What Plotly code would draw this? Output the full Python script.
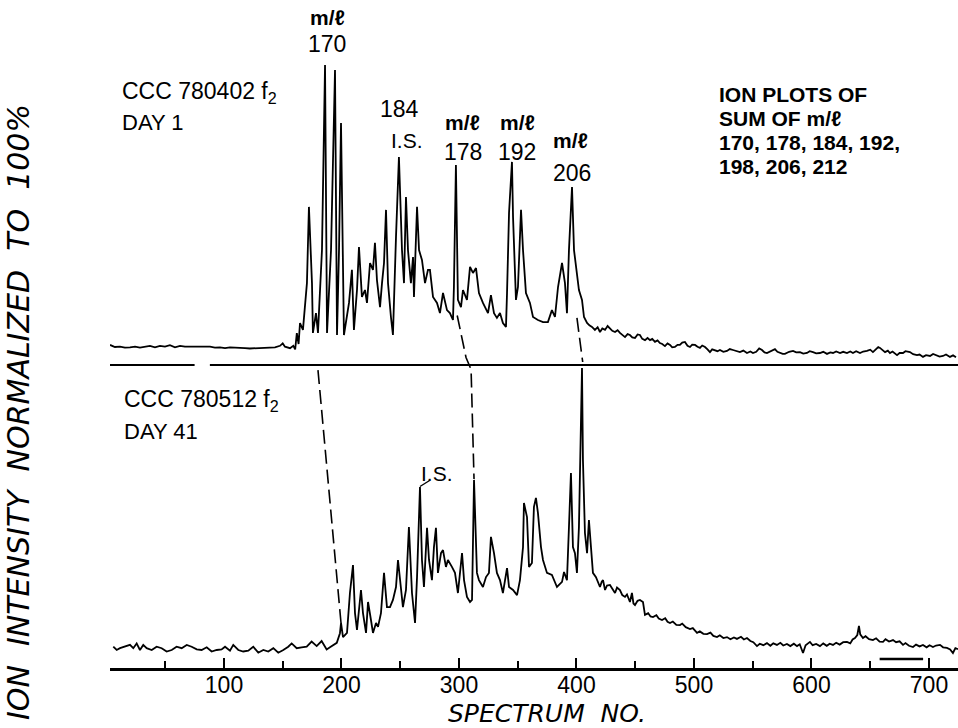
import plotly.graph_objects as go

# ---------------- data: summed ion plots (intensity in % of largest peak) ----------------
# Upper run: CCC 780402 f2, day 1
upper_spectrum = [
    3, 7.2, 11.5, 15.7, 20, 24.3, 28.5, 32.8, 37, 41.3,
    45.5, 49.8, 54, 58.3, 62.6, 66.8, 71.1, 75.3, 79.6, 83.8,
    88.1, 92.3, 96.6, 100.9, 105.1, 109.4, 113.6, 117.9, 122, 127,
    132, 137, 143.4, 147.7, 150, 151.9, 156.2, 159, 160.6, 162,
    163.5, 164.7, 167.2, 170.6, 172.3, 174.9, 175.7, 178.3, 180, 183.4,
    186, 187.7, 191.1, 194.5, 196.2, 197.9, 199.6, 202.1, 204.7, 206.4,
    208.9, 210.6, 213.2, 214.9, 217.4, 220, 221.7, 224.3, 226.8, 228.5,
    230.2, 232.8, 234.5, 236.2, 237.9, 239.6, 242.1, 243.8, 246.4, 248.9,
    251.5, 253.2, 254.9, 256.6, 259.1, 260.9, 261.7, 264.3, 266, 268.5,
    271.1, 273.6, 275.3, 277.9, 281.3, 283.8, 286.4, 289.8, 292.3, 294.9,
    295.7, 297.4, 299.1, 301.7, 303.4, 306.8, 309.4, 311.9, 314.5, 317,
    320.4, 324.7, 327.2, 329.8, 332.3, 334.9, 337.4, 340, 340.9, 342.6,
    345.1, 346, 348.5, 350.2, 352.8, 354.5, 357, 360.4, 363, 367.2,
    371.5, 375.7, 379.1, 381.7, 384.3, 387.7, 390.2, 391.9, 393.6, 396.2,
    397.9, 400.4, 402.1, 404.7, 406.4, 409, 411, 413.2, 415.7, 418,
    420, 422, 424.3, 426.5, 428.5, 430.5, 432.8, 435, 437, 439,
    441.3, 443.5, 445.5, 447.5, 449.8, 452, 454, 456, 458.3, 460.5,
    462.6, 464.5, 466.8, 469, 471, 473, 475.3, 477.5, 479.6, 481.5,
    483.8, 486, 488, 490, 492.3, 494.5, 496.6, 498.5, 500.9, 503,
    505.1, 507, 509.4, 511.5, 513.6, 515.5, 517.9, 520, 522.1, 525,
    528.1, 530.5, 533.2, 536, 539.1, 542, 545.1, 548, 550.2, 553,
    555.5, 557.9, 560, 562.1, 565, 568.9, 571, 573.2, 575.5, 577.4,
    581, 584.3, 587, 590.2, 593, 596.2, 598.5, 601.3, 604, 607.2,
    610, 613.2, 616, 618.3, 621, 624.3, 627, 630.2, 633, 635.3,
    638, 641.3, 644, 647.2, 650, 652.3, 655, 656.8, 658.3, 660.5,
    662.6, 665, 666.8, 669, 672.8, 675, 677.9, 680, 683.8, 686.5,
    689.8, 692, 694.9, 697.5, 700.9, 703.5, 706.8, 709, 711.9, 714.5,
    717.9, 720.5, 723,
]
upper_intensity = [
    6.7, 6.0, 6.1, 5.8, 5.9, 6.1, 5.8, 6.1, 6.4, 5.9,
    6.4, 6.1, 6.6, 5.9, 6.4, 6.1, 6.1, 5.9, 6.1, 5.9,
    6.1, 5.8, 5.9, 5.6, 5.9, 5.8, 5.6, 5.6, 5.5, 5.6,
    5.5, 5.6, 5.9, 6.4, 7.2, 6.1, 5.6, 6.4, 5.2, 10.6,
    7.0, 14.0, 11.7, 27.3, 52.7, 27.3, 10.7, 17.3, 10.7, 38.3,
    100, 10.7, 38.3, 98.3, 10.0, 38.3, 80.7, 10.0, 16.0, 20.7,
    31.7, 11.7, 25.0, 39.3, 22.7, 25.0, 20.7, 34.0, 31.7, 40.7,
    28.3, 19.3, 27.3, 34.0, 51.7, 27.3, 16.0, 10.0, 42.7, 69.3,
    38.3, 27.3, 56.0, 38.3, 27.3, 36.0, 22.7, 52.7, 38.3, 35.0,
    27.3, 31.7, 31.7, 22.7, 20.7, 17.3, 24.0, 18.3, 17.3, 15.0,
    26.0, 66.7, 21.7, 19.3, 25.0, 21.7, 32.7, 30.7, 32.3, 24.0,
    20.7, 17.3, 23.3, 17.3, 15.7, 17.3, 14.0, 12.7, 24.0, 50.7,
    67.7, 49.3, 21.7, 26.0, 51.7, 38.3, 24.0, 20.7, 16.0, 15.0,
    14.3, 14.3, 18.3, 16.0, 26.0, 34.0, 27.3, 17.3, 38.3, 59.3,
    38.3, 30.7, 25.0, 21.7, 16.0, 14.0, 13.2, 12.7, 11.7, 12.6,
    11.0, 12.2, 11.7, 13.0, 12.3, 11.4, 11.0, 11.6, 10.7, 10.0,
    9.3, 10.3, 10.0, 9.2, 9.0, 10.2, 10.0, 8.7, 8.3, 9.0,
    8.3, 8.7, 7.7, 8.2, 7.3, 7.0, 6.3, 7.2, 6.7, 5.9,
    6.0, 6.7, 6.7, 7.5, 7.7, 6.4, 6.0, 6.8, 6.7, 6.1,
    5.7, 6.5, 6.0, 5.2, 4.3, 5.2, 5.0, 4.6, 5.0, 4.4,
    4.7, 5.3, 5.0, 4.6, 4.3, 4.8, 4.0, 4.5, 4.0, 4.4,
    5.5, 5.0, 4.2, 4.0, 4.6, 5.3, 4.4, 4.0, 3.7, 3.7,
    4.4, 4.7, 4.2, 4.3, 3.8, 4.0, 4.6, 4.3, 3.9, 4.0,
    4.4, 3.7, 4.2, 4.0, 4.5, 4.0, 4.4, 4.0, 4.5, 4.0,
    4.6, 4.0, 4.5, 4.7, 5.1, 4.3, 5.2, 6.0, 5.7, 5.0,
    4.3, 4.8, 4.0, 4.5, 3.3, 4.0, 4.0, 4.6, 4.3, 3.6,
    3.3, 3.5, 2.7, 3.3, 3.0, 3.7, 3.3, 2.8, 3.0, 3.5,
    2.7, 3.2, 2.6,
]

# Lower run: CCC 780512 f2, day 41
lower_spectrum = [
    5.8, 8.7, 11.5, 15.7, 20, 22.8, 25.7, 28.5, 31.3, 34.2,
    38.5, 42.7, 47, 51.2, 55.5, 59.7, 64, 68.3, 72.5, 76.8,
    81, 85.3, 89.5, 93.8, 98, 100.9, 105.1, 107.9, 112.2, 116.4,
    120.7, 124.9, 129.2, 133.5, 137.7, 142, 146.2, 150.5, 154.7, 157.6,
    161.9, 166.1, 170.4, 174.6, 178.9, 183.1, 187.4, 190.2, 193, 196,
    198.7, 199.6, 201.3, 204.7, 207.2, 209.8, 211.5, 213.2, 216.6, 218.3,
    220.9, 222.6, 225.1, 226.8, 229.4, 231.1, 233.6, 236.2, 238.7, 241.3,
    243.8, 246.4, 248.1, 250.6, 252.3, 254.9, 257.4, 260, 262.6, 264.3,
    266.8, 268.5, 270.2, 272.8, 274.5, 277, 278.7, 280.4, 282.1, 284.7,
    286.4, 288.9, 290.6, 294, 296.6, 299.1, 300.9, 302.6, 304.3, 306.8,
    309.4, 311.1, 312.8, 315.3, 317, 320.4, 323, 325.5, 327.2, 329.8,
    332.3, 334.9, 337.4, 340.9, 342.6, 346, 349.4, 351.9, 354.5, 355.3,
    357.9, 359.6, 362.1, 363.8, 365.5, 367.2, 369.8, 371.5, 374.9, 379.1,
    383.4, 387.7, 389.4, 391.9, 393.6, 395.3, 397, 398.7, 400.4, 402.1,
    404.7, 405.5, 407.2, 409, 410.6, 412.3, 414, 416.6, 418.5, 420,
    421.5, 422.6, 424.3, 426, 428.5, 430.5, 432.8, 434.5, 437, 439,
    441.3, 443, 445.5, 447.2, 448.5, 449.8, 452, 454, 456.6, 458.3,
    461, 463, 465.1, 468, 470, 472.8, 475.5, 477.5, 479.6, 482,
    485, 488.1, 490, 493, 496.6, 499, 502.6, 505, 508, 511.1,
    514, 516.5, 519.6, 522, 525, 528.1, 531, 534, 536.6, 540,
    542.5, 545.1, 548, 550.5, 553.6, 556, 559, 562.1, 565, 567.5,
    570.6, 573.5, 576, 579.1, 582, 585, 587.7, 590, 592.8, 595,
    598.7, 601, 604, 607.2, 610, 613, 615.5, 618.3, 621, 624,
    627, 630.2, 633, 635, 637, 639, 640.4, 641.5, 643.8, 646,
    649, 652.3, 655, 658, 660.9, 663, 666, 669.4, 672, 675,
    677.9, 680, 683, 686.4, 689, 692, 694.9, 698, 700.5, 703.4,
    706, 709.4, 712, 715.3, 718, 720.4, 722.5, 724.7,
]
lower_intensity = [
    7.1, 6.0, 6.6, 7.1, 7.7, 6.6, 8.2, 6.0, 7.7, 6.6,
    6.0, 7.1, 6.6, 5.5, 6.0, 7.1, 6.6, 7.7, 7.1, 6.2,
    6.0, 6.9, 5.5, 6.0, 6.2, 7.1, 5.8, 7.7, 6.0, 5.5,
    5.8, 7.1, 5.1, 6.0, 5.5, 6.6, 5.1, 6.0, 7.1, 8.2,
    6.6, 6.9, 7.1, 8.8, 7.3, 9.0, 6.2, 6.9, 7.7, 8.4,
    11.6, 15.0, 10.3, 11.7, 25.0, 34.3, 18.3, 12.7, 26.0, 18.3,
    11.7, 22.0, 16.0, 11.7, 15.0, 13.7, 18.3, 31.7, 20.3, 20.3,
    22.7, 27.0, 36.0, 25.0, 20.3, 26.0, 47.0, 25.0, 15.0, 30.3,
    60.3, 36.0, 27.0, 46.7, 36.0, 29.3, 40.3, 46.7, 31.7, 38.3,
    39.3, 33.7, 36.0, 33.7, 31.7, 25.0, 31.7, 38.3, 29.3, 23.7,
    22.0, 22.7, 62.7, 31.7, 29.3, 27.0, 30.3, 31.7, 43.7, 38.3,
    31.7, 29.3, 25.0, 33.3, 27.0, 26.0, 24.3, 29.3, 40.3, 55.0,
    50.3, 33.7, 35.0, 53.7, 56.7, 51.7, 40.3, 36.0, 31.7, 31.0,
    27.0, 28.7, 32.0, 29.3, 47.0, 65.0, 40.3, 38.3, 31.7, 47.0,
    100, 69.3, 45.0, 38.3, 49.3, 40.3, 31.7, 30.3, 28.5, 27.0,
    28.8, 29.3, 26.0, 27.5, 27.7, 26.2, 25.0, 26.8, 26.0, 24.3,
    23.7, 24.5, 22.0, 25.0, 21.5, 21.0, 22.4, 22.7, 22.0, 17.7,
    18.3, 17.2, 17.0, 17.6, 16.5, 16.0, 16.6, 15.4, 15.0, 15.5,
    14.4, 14.3, 14.8, 13.6, 13.0, 13.3, 11.7, 12.2, 11.4, 11.3,
    11.8, 10.7, 10.3, 10.9, 10.0, 10.3, 9.6, 10.2, 9.7, 10.4,
    9.5, 10.0, 9.0, 8.6, 7.3, 8.1, 7.6, 8.3, 7.4, 8.2,
    7.7, 8.4, 7.5, 8.0, 7.3, 8.1, 7.3, 7.9, 5.0, 7.6,
    8.7, 7.6, 8.0, 7.3, 8.2, 7.4, 8.1, 7.7, 8.4, 7.8,
    8.6, 8.7, 8.2, 9.5, 10.0, 11.0, 14.0, 11.2, 10.0, 10.6,
    9.6, 9.3, 9.9, 8.8, 8.7, 9.6, 8.8, 9.3, 8.6, 8.9,
    7.7, 8.3, 7.4, 7.0, 7.8, 7.2, 7.7, 6.9, 7.6, 7.0,
    7.5, 7.7, 6.9, 6.7, 6.2, 5.0, 6.6, 6.3,
]

# The upper plot sits on top of the lower one; its zero line is this far up the stacked scale.
UPPER_OFFSET = 101

# Upper plot zero line (broken in one place) as spectrum ranges
upper_rule_segments = [(3, 75), (88, 724.7)]

# Dashed guides linking corresponding peaks in the two runs (spectrum, stacked height)
peak_link_spectra = [[180, 199.6], [298.5, 306, 310.3, 312.8], [400.4, 405.3]]
peak_link_heights = [[99.3, 15.0], [117.5, 103.5, 99.5, 63.0], [116.7, 102.0]]

# Short horizontal bar near the lower right corner (spectrum range, height)
marker_bar = ([658, 695], 3.0)

X_RANGE = [3, 724.7]
Y_TOP = 668 / 3.0

FONT = "Liberation Sans"
INK = "black"

fig = go.Figure()

fig.add_trace(go.Scatter(
    x=lower_spectrum, y=lower_intensity, mode="lines",
    line=dict(color=INK, width=1.8), hoverinfo="skip", showlegend=False))

fig.add_trace(go.Scatter(
    x=upper_spectrum, y=[v + UPPER_OFFSET for v in upper_intensity], mode="lines",
    line=dict(color=INK, width=1.8), hoverinfo="skip", showlegend=False))

rule_x, rule_y = [], []
for a, b in upper_rule_segments:
    rule_x += [a, b, None]
    rule_y += [UPPER_OFFSET, UPPER_OFFSET, None]
fig.add_trace(go.Scatter(
    x=rule_x, y=rule_y, mode="lines", line=dict(color=INK, width=2),
    hoverinfo="skip", showlegend=False))

for xs, ys in zip(peak_link_spectra, peak_link_heights):
    fig.add_trace(go.Scatter(
        x=xs, y=ys, mode="lines", line=dict(color=INK, width=1.6, dash="14px,6px"),
        hoverinfo="skip", showlegend=False))

fig.add_trace(go.Scatter(
    x=marker_bar[0], y=[marker_bar[1]] * 2, mode="lines", line=dict(color=INK, width=2.5),
    hoverinfo="skip", showlegend=False))

# leader line from the lower "I.S." label to its peak
fig.add_trace(go.Scatter(
    x=[266.8, 275.0], y=[60.5, 62.5], mode="lines", line=dict(color=INK, width=1.4),
    hoverinfo="skip", showlegend=False))


def label(x, y, text, size=22, anchor="center", weight="normal"):
    fig.add_annotation(x=x, y=y, xref="x", yref="y", text=text, showarrow=False,
                       xanchor=anchor, yanchor="middle",
                       font=dict(family=FONT, size=size, color=INK, weight=weight))


ML = "m/\u2113"
# peak labels, upper run
label(187.7, 217.0, ML, 21, weight="bold")
label(187.7, 208.0, "170", 23)
label(249.8, 186.3, "184", 23)
label(255.7, 176.0, "I.S.", 21)
label(302.6, 181.8, ML, 21, weight="bold")
label(303.4, 172.0, "178", 23)
label(349.4, 181.8, ML, 21, weight="bold")
label(349.4, 172.0, "192", 23)
label(394.5, 176.0, ML, 21, weight="bold")
label(396.2, 165.0, "206", 23)

# sample identifiers
label(11.5, 192.0, "CCC 780402 f<sub>2</sub>", 23, "left")
label(11.5, 181.7, "DAY 1", 22, "left")
label(13.2, 89.3, "CCC 780512 f<sub>2</sub>", 23, "left")
label(13.2, 79.0, "DAY 41", 22, "left")
label(281.3, 65.0, "I.S.", 21)

# legend block
legend_lines = ["ION PLOTS OF", "SUM OF m/\u2113", "170, 178, 184, 192,", "198, 206, 212"]
legend_rows_y = [191.3, 183.3, 175.3, 167.3]
for text, yy in zip(legend_lines, legend_rows_y):
    label(519.6, yy, text, 21, "left", weight="bold")

# axis titles
fig.add_annotation(x=(547 - 110) / 848, y=(668 - 713) / 668, xref="paper", yref="paper",
                   text="SPECTRUM\u00a0\u00a0NO.", showarrow=False,
                   xanchor="center", yanchor="middle",
                   font=dict(family="DejaVu Sans", size=25, color=INK, style="italic"))
fig.add_annotation(x=(18 - 110) / 848, y=(668 - 412) / 668, xref="paper", yref="paper",
                   text="ION\u00a0\u00a0INTENSITY\u00a0\u00a0NORMALIZED\u00a0\u00a0TO\u00a0\u00a0100%",
                   showarrow=False, textangle=-90, xanchor="center", yanchor="middle",
                   font=dict(family="DejaVu Sans", size=30, color=INK, style="italic"))

fig.update_layout(
    width=958, height=728,
    margin=dict(l=110, r=0, t=0, b=60, pad=0),
    paper_bgcolor="white", plot_bgcolor="white",
    showlegend=False,
    xaxis=dict(
        range=X_RANGE, showgrid=False, zeroline=False,
        showline=True, linecolor=INK, linewidth=3,
        ticks="inside", ticklen=10, tickwidth=2, tickcolor=INK,
        tick0=0, dtick=100,
        minor=dict(ticks="inside", ticklen=7, tickwidth=2, tickcolor=INK, dtick=50, showgrid=False),
        tickfont=dict(family=FONT, size=23, color=INK),
        ticklabelstandoff=-6,
        fixedrange=True,
    ),
    yaxis=dict(range=[0, Y_TOP], visible=False, fixedrange=True),
)

fig.write_html("out.html")
